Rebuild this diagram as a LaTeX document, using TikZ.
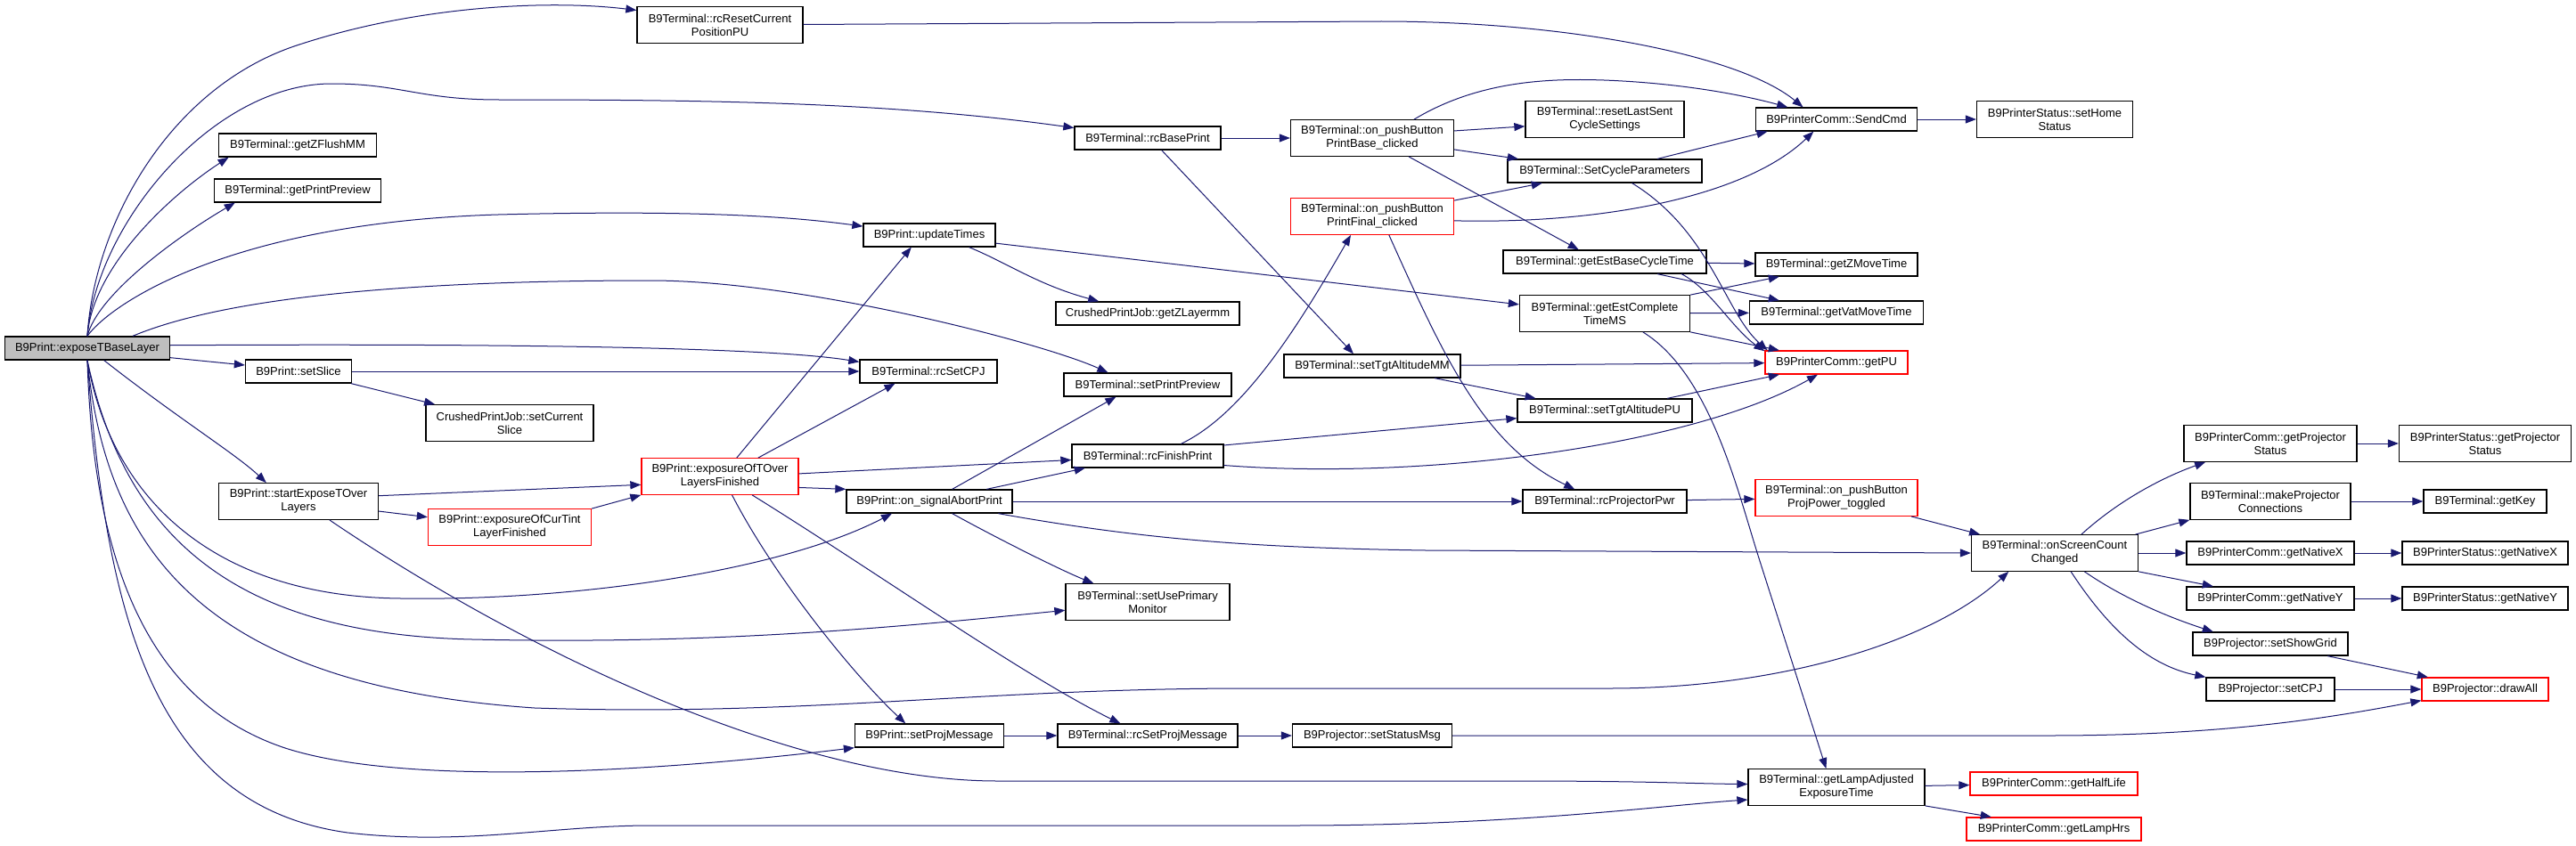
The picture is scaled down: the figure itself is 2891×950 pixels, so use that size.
\documentclass[tikz,border=0pt]{standalone}
\usepackage{fontspec}
\setmainfont{Liberation Sans}
\usetikzlibrary{arrows.meta,calc}
\definecolor{edgec}{RGB}{25,25,112}
\definecolor{mainfill}{RGB}{191,191,191}
\begin{document}
\begin{tikzpicture}[x=1pt,y=-1pt,
  fn/.style={draw=black, line width=1.3pt, fill=white, align=center, inner sep=0pt,
    font=\fontsize{13}{15}\selectfont, minimum height=26pt},
  tall/.style={minimum height=40.5pt},
  redn/.style={draw=red},
  mainn/.style={fill=mainfill},
  e/.style={draw=edgec, line width=1pt, -{Triangle[length=12pt,width=9pt]}}]
\path[fill=white] (0,0) rectangle (2891,950);
\useasboundingbox (0,0) rectangle (2891,950);
% column 0-1
\node[fn, mainn, minimum width=185pt] (main) at (98,391) {B9Print::exposeTBaseLayer};
\node[fn, tall, minimum width=186pt] (rcReset) at (808,28) {B9Terminal::rcResetCurrent\\PositionPU};
\node[fn, minimum width=177pt] (getZFlushMM) at (334,163) {B9Terminal::getZFlushMM};
\node[fn, minimum width=187pt] (getPrintPreview) at (334,214) {B9Terminal::getPrintPreview};
\node[fn, minimum width=119pt] (setSlice) at (335,417) {B9Print::setSlice};
\node[fn, tall, minimum width=179pt] (startExpose) at (335,563) {B9Print::startExposeTOver\\Layers};
\node[fn, tall, minimum width=188pt] (setCurrentSlice) at (572,475) {CrushedPrintJob::setCurrent\\Slice};
\node[fn, tall, redn, minimum width=183pt] (curTint) at (572,592) {B9Print::exposureOfCurTint\\LayerFinished};
\node[fn, tall, redn, minimum width=176pt] (exposureOfTOver) at (808,535) {B9Print::exposureOfTOver\\LayersFinished};
% column 4
\node[fn, minimum width=148pt] (updateTimes) at (1043,264) {B9Print::updateTimes};
\node[fn, minimum width=154pt] (rcSetCPJ) at (1042,417) {B9Terminal::rcSetCPJ};
\node[fn, minimum width=186pt] (sigAbort) at (1043,563) {B9Print::on\_signalAbortPrint};
\node[fn, minimum width=167pt] (setProjMessage) at (1043,826) {B9Print::setProjMessage};
% column 5
\node[fn, minimum width=164pt] (rcBasePrint) at (1288,155) {B9Terminal::rcBasePrint};
\node[fn, minimum width=206pt] (getZLayermm) at (1288,352) {CrushedPrintJob::getZLayermm};
\node[fn, minimum width=188pt] (setPrintPreview) at (1288,432) {B9Terminal::setPrintPreview};
\node[fn, minimum width=170pt] (rcFinishPrint) at (1288,512) {B9Terminal::rcFinishPrint};
\node[fn, tall, minimum width=184pt] (setUsePrimaryMonitor) at (1288,676) {B9Terminal::setUsePrimary\\Monitor};
\node[fn, minimum width=202pt] (rcSetProjMessage) at (1288,826) {B9Terminal::rcSetProjMessage};
% column 6
\node[fn, tall, minimum width=183pt] (PrintBase) at (1540,155) {B9Terminal::on\_pushButton\\PrintBase\_clicked};
\node[fn, tall, redn, minimum width=183pt] (PrintFinal) at (1540,243) {B9Terminal::on\_pushButton\\PrintFinal\_clicked};
\node[fn, minimum width=198pt] (setTgtAltitudeMM) at (1540,411) {B9Terminal::setTgtAltitudeMM};
\node[fn, minimum width=179pt] (setStatusMsg) at (1540,826) {B9Projector::setStatusMsg};
% column 7
\node[fn, tall, minimum width=178pt] (resetLastSent) at (1801,134) {B9Terminal::resetLastSent\\CycleSettings};
\node[fn, minimum width=218pt] (SetCycleParameters) at (1801,192) {B9Terminal::SetCycleParameters};
\node[fn, minimum width=228pt] (getEstBaseCycleTime) at (1801,294) {B9Terminal::getEstBaseCycleTime};
\node[fn, tall, minimum width=191pt] (getEstCompleteTimeMS) at (1801,352) {B9Terminal::getEstComplete\\TimeMS};
\node[fn, minimum width=196pt] (setTgtAltitudePU) at (1801,461) {B9Terminal::setTgtAltitudePU};
\node[fn, minimum width=184pt] (rcProjectorPwr) at (1801,563) {B9Terminal::rcProjectorPwr};
% column 8
\node[fn, minimum width=181pt] (SendCmd) at (2061,134) {B9PrinterComm::SendCmd};
\node[fn, minimum width=182pt] (getZMoveTime) at (2061,297) {B9Terminal::getZMoveTime};
\node[fn, minimum width=195pt] (getVatMoveTime) at (2061,351) {B9Terminal::getVatMoveTime};
\node[fn, redn, minimum width=160pt] (getPU) at (2061,407) {B9PrinterComm::getPU};
\node[fn, tall, redn, minimum width=182pt] (ProjPower) at (2061,559) {B9Terminal::on\_pushButton\\ProjPower\_toggled};
\node[fn, tall, minimum width=198pt] (getLampAdjusted) at (2061,884) {B9Terminal::getLampAdjusted\\ExposureTime};
% column 9
\node[fn, tall, minimum width=175pt] (setHomeStatus) at (2306,134) {B9PrinterStatus::setHome\\Status};
\node[fn, tall, minimum width=187pt] (onScreen) at (2306,621) {B9Terminal::onScreenCount\\Changed};
\node[fn, redn, minimum width=188pt] (getHalfLife) at (2305,880) {B9PrinterComm::getHalfLife};
\node[fn, redn, minimum width=196pt] (getLampHrs) at (2305,931) {B9PrinterComm::getLampHrs};
% column 10-11
\node[fn, tall, minimum width=194pt] (PCgetProj) at (2548,498) {B9PrinterComm::getProjector\\Status};
\node[fn, tall, minimum width=180pt] (makeProj) at (2548,563) {B9Terminal::makeProjector\\Connections};
\node[fn, minimum width=188pt] (getNativeX) at (2548,621) {B9PrinterComm::getNativeX};
\node[fn, minimum width=188pt] (getNativeY) at (2548,672) {B9PrinterComm::getNativeY};
\node[fn, minimum width=174pt] (setShowGrid) at (2548,723) {B9Projector::setShowGrid};
\node[fn, minimum width=144pt] (setCPJproj) at (2548,774) {B9Projector::setCPJ};
\node[fn, tall, minimum width=193pt] (PSgetProj) at (2789,498) {B9PrinterStatus::getProjector\\Status};
\node[fn, minimum width=138pt] (getKey) at (2789,563) {B9Terminal::getKey};
\node[fn, minimum width=186pt] (PSgetNativeX) at (2789,621) {B9PrinterStatus::getNativeX};
\node[fn, minimum width=186pt] (PSgetNativeY) at (2789,672) {B9PrinterStatus::getNativeY};
\node[fn, redn, minimum width=142pt] (drawAll) at (2789,774) {B9Projector::drawAll};
% edges from main
\draw[e] (main.north) .. controls (106,250) and (190,100) .. (330,52) .. controls (470,5) and (620,0) .. (rcReset.170);
\draw[e] (main.north) .. controls (108,250) and (240,94) .. (372,94) .. controls (450,94) and (470,112) .. (560,112) .. controls (800,112) and (1000,115) .. (rcBasePrint);
\draw[e] (main.north) .. controls (104,300) and (190,220) .. (getZFlushMM.190);
\draw[e] (main.north) .. controls (110,330) and (200,265) .. (getPrintPreview.191);
\draw[e] (main.north) .. controls (125,340) and (260,250) .. (559,241) .. controls (800,235) and (900,245) .. (updateTimes);
\draw[e] (main.15) .. controls (250,335) and (450,315) .. (730,315) .. controls (900,315) and (1170,385) .. (setPrintPreview.163);
\draw[e] (main.2) .. controls (500,386) and (850,388) .. ($(rcSetCPJ.north west)+(0,3)$);
\draw[e] ($(main.south east)+(0,-3)$) -- ($(setSlice.west)+(0,-7)$);
\draw[e] (main.324) .. controls (200,470) and (265,510) .. (startExpose.150);
\draw[e] (main.south) .. controls (125,560) and (240,670) .. (450,672) .. controls (650,675) and (880,640) .. (sigAbort.198);
\draw[e] (main.south) .. controls (140,600) and (260,712) .. (530,718) .. controls (800,724) and (1000,705) .. (setUsePrimaryMonitor);
\draw[e] (main.south) .. controls (120,620) and (230,770) .. (600,795) .. controls (900,805) and (1100,773) .. (1400,773) -- (1806,773) .. controls (2000,773) and (2170,720) .. (onScreen.202);
\draw[e] (main.south) .. controls (105,640) and (170,790) .. (320,840) .. controls (460,885) and (750,865) .. (setProjMessage.south west);
\draw[e] (main.south) .. controls (120,700) and (175,905) .. (390,935) .. controls (520,950) and (620,927) .. (730,927) -- (1450,927) .. controls (1700,927) and (1860,905) .. (getLampAdjusted.188);
% startExpose, setSlice, curTint
\draw[e] (startExpose.4) -- (exposureOfTOver.186);
\draw[e] (startExpose.353) -- (curTint.173);
\draw[e] (startExpose.329) .. controls (600,740) and (900,877) .. (1119,877) -- (1700,877) .. controls (1850,877) and (1900,880) .. (getLampAdjusted.178);
\draw[e] (curTint.north east) -- (exposureOfTOver.south west);
\draw[e] (setSlice) -- (rcSetCPJ);
\draw[e] (setSlice.347) -- (setCurrentSlice.166);
% exposureOfTOver
\draw[e] (exposureOfTOver.48) -- (updateTimes.214);
\draw[e] (exposureOfTOver.26) -- (rcSetCPJ.200);
\draw[e] (exposureOfTOver.2) -- (rcFinishPrint.183);
\draw[e] (exposureOfTOver.352) -- (sigAbort.north west);
\draw[e] (exposureOfTOver.303) .. controls (870,650) and (960,760) .. (setProjMessage.153);
\draw[e] (exposureOfTOver.330) .. controls (980,640) and (1150,760) .. (rcSetProjMessage.156);
% on_signalAbortPrint
\draw[e] (sigAbort.28) -- (setPrintPreview.201);
\draw[e] (sigAbort.12) -- (rcFinishPrint.191);
\draw[e] (sigAbort) -- (rcProjectorPwr);
\draw[e] (sigAbort.350) .. controls (1280,605) and (1400,615) .. (1600,618) -- (onScreen.west);
\draw[e] (sigAbort.332) .. controls (1120,605) and (1190,640) .. (setUsePrimaryMonitor.161);
% projector message chain
\draw[e] (setProjMessage) -- (rcSetProjMessage);
\draw[e] (rcSetProjMessage) -- (setStatusMsg);
\draw[e] (setStatusMsg) -- (2300,826) .. controls (2500,826) and (2620,805) .. (drawAll.190);
% rcBasePrint, PrintBase, PrintFinal
\draw[e] (rcBasePrint) -- (PrintBase);
\draw[e] (rcBasePrint.319) -- (setTgtAltitudeMM.147);
\draw[e] (PrintBase.24) .. controls (1660,90) and (1740,88) .. (1800,90) .. controls (1880,93) and (1950,105) .. (SendCmd.166);
\draw[e] (PrintBase.5) -- (resetLastSent.185);
\draw[e] (PrintBase.352) -- (SetCycleParameters.172);
\draw[e] (PrintBase.333) -- (getEstBaseCycleTime.155);
\draw[e] (PrintFinal.11) -- (SetCycleParameters.191);
\draw[e] (PrintFinal.357) .. controls (1800,252) and (1960,220) .. (SendCmd.208);
\draw[e] (PrintFinal.312) .. controls (1620,400) and (1665,500) .. (rcProjectorPwr.158);
\draw[e] (SetCycleParameters.13) -- (SendCmd.190);
\draw[e] (SetCycleParameters.336) .. controls (1920,260) and (1935,350) .. (getPU.170);
\draw[e] (rcReset) -- (1550,24) .. controls (1750,24) and (1950,60) .. (SendCmd.160);
\draw[e] (SendCmd) -- (setHomeStatus);
% updateTimes
\draw[e] (updateTimes.343) .. controls (1130,295) and (1165,320) .. (getZLayermm.166);
\draw[e] (updateTimes.353) -- (getEstCompleteTimeMS.174);
% estimations
\draw[e] (getEstBaseCycleTime) -- (getZMoveTime);
\draw[e] (getEstBaseCycleTime.347) -- (getVatMoveTime.168);
\draw[e] (getEstBaseCycleTime.351) .. controls (1920,325) and (1945,370) .. (getPU.171);
\draw[e] (getEstCompleteTimeMS.north east) -- (getZMoveTime.192);
\draw[e] (getEstCompleteTimeMS) -- (getVatMoveTime);
\draw[e] (getEstCompleteTimeMS.south east) -- (getPU.168);
\draw[e] (getEstCompleteTimeMS.334) .. controls (1920,420) and (1950,552) .. (1975,630) -- (getLampAdjusted.119);
% altitude
\draw[e] (setTgtAltitudeMM) -- (getPU);
\draw[e] (setTgtAltitudeMM.349) -- (setTgtAltitudePU.170);
\draw[e] (setTgtAltitudePU.11) -- (getPU.192);
% rcFinishPrint
\draw[e] (rcFinishPrint.20) .. controls (1395,465) and (1455,370) .. (PrintFinal.221);
\draw[e] (rcFinishPrint.8) -- (setTgtAltitudePU.185);
\draw[e] (rcFinishPrint.353) .. controls (1600,540) and (1900,500) .. (getPU.213);
% projector power
\draw[e] (rcProjectorPwr) -- (ProjPower);
\draw[e] (ProjPower.346) -- (onScreen.166);
% onScreenCountChanged
\draw[e] (onScreen.35) .. controls (2380,560) and (2430,535) .. (PCgetProj.196);
\draw[e] (onScreen.13) -- (makeProj.south west);
\draw[e] (onScreen) -- (getNativeX);
\draw[e] (onScreen.south east) -- (getNativeY.168);
\draw[e] (onScreen.328) .. controls (2380,670) and (2430,692) .. (setShowGrid.168);
\draw[e] (onScreen.311) .. controls (2370,712) and (2415,748) .. (setCPJproj.north west);
\draw[e] (PCgetProj) -- (PSgetProj);
\draw[e] (makeProj) -- (getKey);
\draw[e] (getNativeX) -- (PSgetNativeX);
\draw[e] (getNativeY) -- (PSgetNativeY);
\draw[e] (setShowGrid.348) -- (drawAll.168);
\draw[e] (setCPJproj) -- (drawAll);
% lamp
\draw[e] (getLampAdjusted) -- (getHalfLife);
\draw[e] (getLampAdjusted.south east) -- (getLampHrs.169);
\end{tikzpicture}
\end{document}
